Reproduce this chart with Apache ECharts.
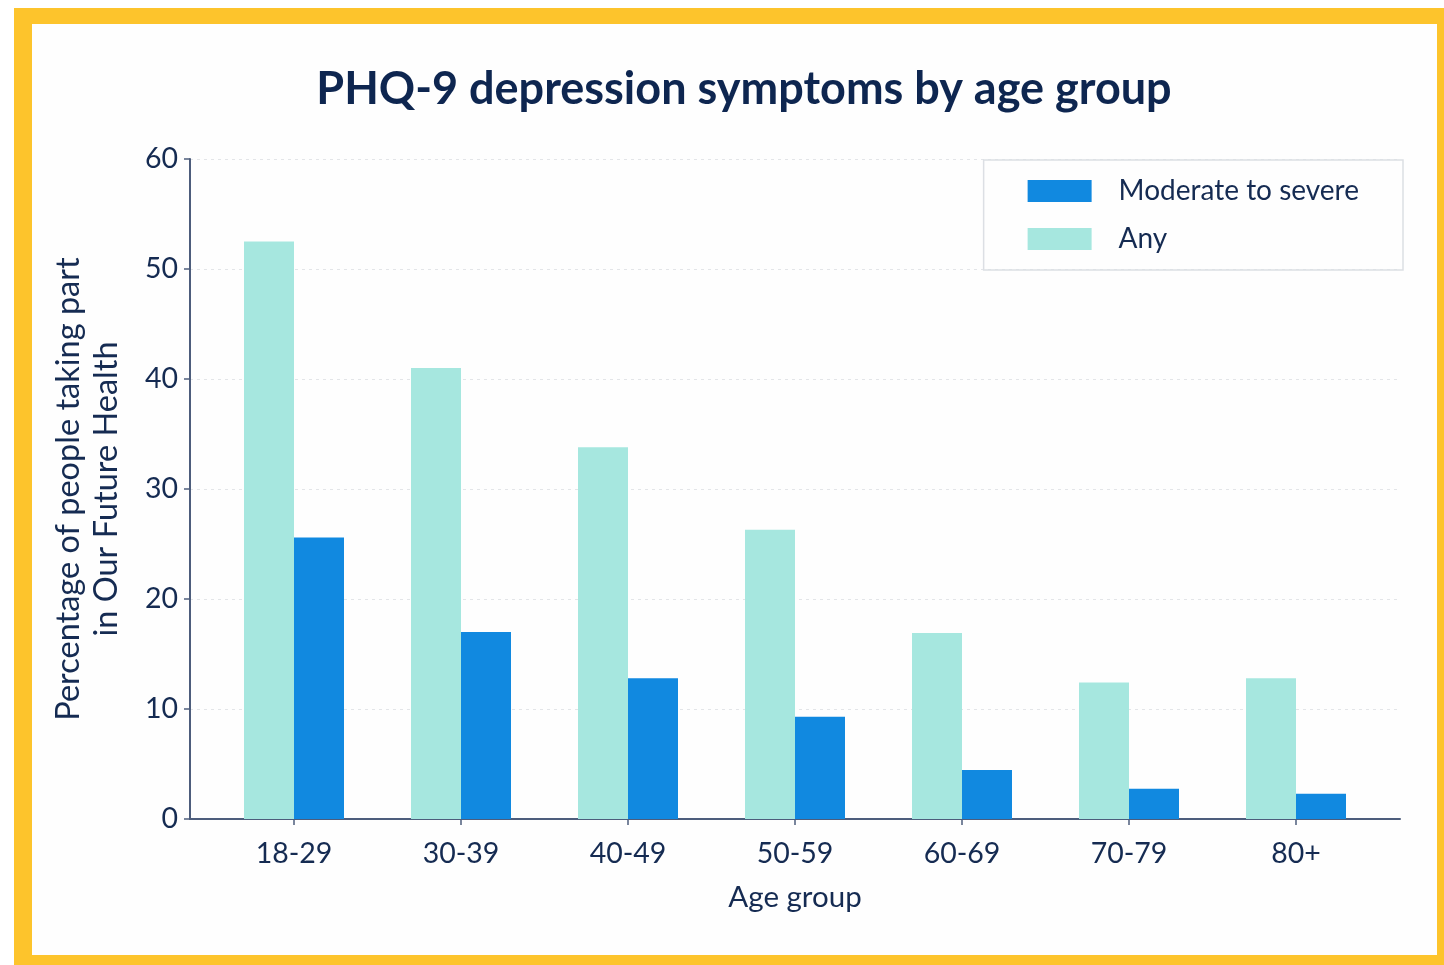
<!DOCTYPE html>
<html>
<head>
<meta charset="utf-8">
<script src="https://cdn.jsdelivr.net/npm/echarts@6/dist/echarts.min.js"></script>
<style>
  html, body { margin: 0; padding: 0; background: #ffffff; }
  #frame { position: absolute; left: 14px; top: 8px; width: 1405px; height: 931px; border: solid #fdc42c; border-width: 16px 7px 10px 18px; background: #fefefe; }
  #chart { position: absolute; left: 0; top: 0; width: 1444px; height: 965px; }
</style>
</head>
<body>
<div id="frame"></div>
<div id="chart"></div>
<script>
const categories = ['18-29', '30-39', '40-49', '50-59', '60-69', '70-79', '80+'];
const anyValues = [52.5, 41.0, 33.8, 26.3, 16.9, 12.4, 12.8];
const moderateValues = [25.6, 17.0, 12.8, 9.3, 4.45, 2.75, 2.3];
const yTicks = { min: 0, max: 60, interval: 10 };

const FONT = 'Lato';
const NAVY = '#152b52';
const AXIS = '#4d5d7c';

const chart = echarts.init(document.getElementById('chart'), null, { renderer: 'canvas' });
chart.setOption({
  backgroundColor: 'transparent',
  animation: false,
  textStyle: { fontFamily: FONT, color: NAVY },
  title: {
    text: 'PHQ-9 depression symptoms by age group',
    left: 739, top: 62, textAlign: 'center',
    textStyle: { fontFamily: FONT, fontWeight: 'bold', fontSize: 45, color: '#0e2650' }
  },
  legend: {
    data: ['Moderate to severe', 'Any'],
    orient: 'vertical',
    right: 41, top: 160,
    itemWidth: 64, itemHeight: 22, itemGap: 20,
    padding: [17, 44, 17, 44],
    borderColor: '#dcdfe4', borderWidth: 1.5,
    icon: 'rect',
    textStyle: { fontFamily: FONT, fontSize: 28, color: NAVY, padding: [0, 0, 0, 22] }
  },
  grid: [
    { left: 210.5, right: 64.5, top: 159, bottom: 146 },
    { left: 190, right: 44, top: 159, bottom: 146 }
  ],
  xAxis: [
    {
      type: 'category', gridIndex: 0, data: categories,
      axisLine: { show: false },
      axisTick: { show: true, alignWithLabel: true, length: 6, lineStyle: { color: AXIS, width: 1.5 } },
      axisLabel: { fontFamily: FONT, fontSize: 28.5, color: NAVY, margin: 20 },
      name: 'Age group', nameLocation: 'middle', nameGap: 63,
      nameTextStyle: { fontFamily: FONT, fontSize: 29.5, color: NAVY }
    },
    {
      type: 'value', gridIndex: 1, min: 0, max: 1,
      axisLine: { show: true, lineStyle: { color: AXIS, width: 2 } },
      axisTick: { show: false }, axisLabel: { show: false }, splitLine: { show: false }
    }
  ],
  yAxis: [
    { type: 'value', gridIndex: 0, min: yTicks.min, max: yTicks.max, interval: yTicks.interval, show: false, splitLine: { show: false } },
    {
      type: 'value', gridIndex: 1, min: yTicks.min, max: yTicks.max, interval: yTicks.interval,
      axisLine: { show: true, lineStyle: { color: AXIS, width: 2 } },
      axisTick: { show: true, length: 6, lineStyle: { color: AXIS, width: 1.5 } },
      axisLabel: { fontFamily: FONT, fontSize: 28.5, color: NAVY, margin: 12 },
      splitLine: { show: true, lineStyle: { color: '#e3e5e8', type: [3, 4], width: 1.2 } },
      name: 'Percentage of people taking part\nin Our Future Health',
      nameLocation: 'middle', nameGap: 64,
      nameTextStyle: { fontFamily: FONT, fontSize: 32.5, color: NAVY, lineHeight: 38 }
    }
  ],
  series: [
    {
      name: 'Any', type: 'bar', xAxisIndex: 0, yAxisIndex: 0,
      data: anyValues, barWidth: 50, barGap: '0%',
      itemStyle: { color: '#a6e7df' }
    },
    {
      name: 'Moderate to severe', type: 'bar', xAxisIndex: 0, yAxisIndex: 0,
      data: moderateValues, barWidth: 50, barGap: '0%',
      itemStyle: { color: '#1189e0' }
    }
  ]
});
</script>
</body>
</html>
